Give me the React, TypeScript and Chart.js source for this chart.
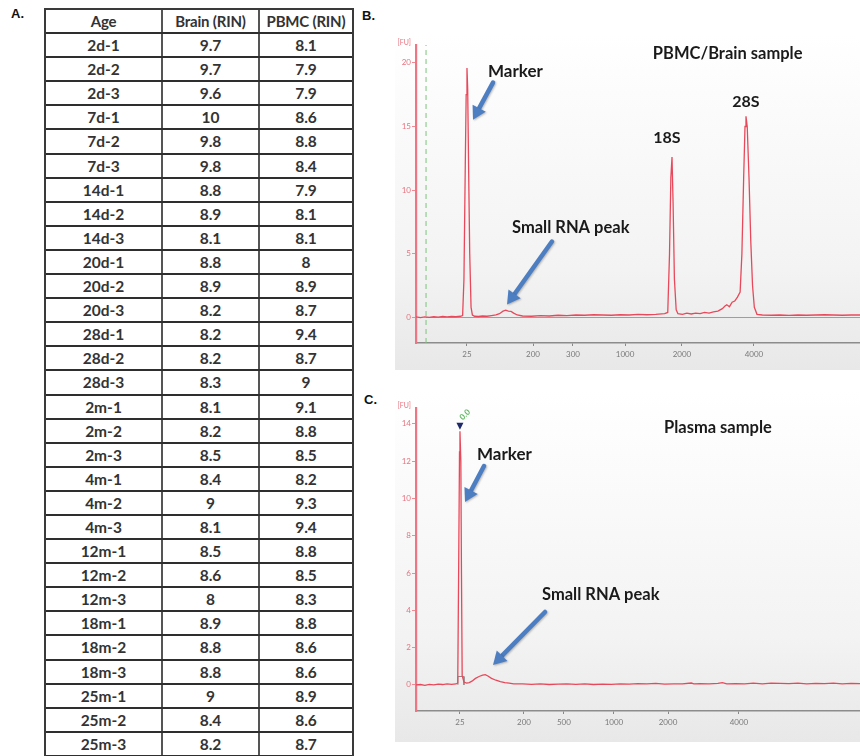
import React, { useEffect, useRef } from "react";
import { Chart, registerables } from "chart.js";
Chart.register(...registerables);

// ---------- Table A ----------
const AGES = [
  "2d-1", "2d-2", "2d-3", "7d-1", "7d-2", "7d-3", "14d-1", "14d-2", "14d-3", "20d-1",
  "20d-2", "20d-3", "28d-1", "28d-2", "28d-3", "2m-1", "2m-2", "2m-3", "4m-1", "4m-2",
  "4m-3", "12m-1", "12m-2", "12m-3", "18m-1", "18m-2", "18m-3", "25m-1", "25m-2", "25m-3",
];
const BRAIN_RIN = [
  9.7, 9.7, 9.6, 10, 9.8, 9.8, 8.8, 8.9, 8.1, 8.8,
  8.9, 8.2, 8.2, 8.2, 8.3, 8.1, 8.2, 8.5, 8.4, 9,
  8.1, 8.5, 8.6, 8, 8.9, 8.8, 8.8, 9, 8.4, 8.2,
];
const PBMC_RIN = [
  8.1, 7.9, 7.9, 8.6, 8.8, 8.4, 7.9, 8.1, 8.1, 8,
  8.9, 8.7, 9.4, 8.7, 9, 9.1, 8.8, 8.5, 8.2, 9.3,
  9.4, 8.8, 8.5, 8.3, 8.8, 8.6, 8.6, 8.9, 8.6, 8.7,
];
const TABLE_HEADERS = ["Age", "Brain (RIN)", "PBMC (RIN)"];

// ---------- Electropherogram B (PBMC/Brain) ----------
const B_TIME = [
  19.0, 19.5, 20.0, 20.5, 21.0, 21.5, 22.0, 22.5, 23.0, 23.5, 24.0, 24.25, 24.4, 24.55, 24.65,
  24.74, 24.82, 24.92, 25.05, 25.2, 25.35, 25.6, 26.0, 26.5, 27.0, 27.5, 28.0, 28.4, 28.8, 29.1,
  29.4, 29.7, 30.0, 30.4, 31.0, 32.0, 33.0, 34.0, 35.0, 36.0, 37.0, 38.0, 39.0, 40.0, 41.0,
  42.0, 43.0, 44.0, 45.0, 46.0, 47.0, 47.35, 47.55, 47.7, 47.83, 47.95, 48.1, 48.3, 48.5, 49.0,
  49.5, 50.0, 50.5, 51.0, 51.5, 52.0, 52.5, 53.0, 53.5, 53.8, 54.0, 54.3, 54.6, 54.9, 55.2,
  55.5, 55.7, 55.9, 56.05, 56.16, 56.3, 56.5, 56.7, 56.9, 57.1, 57.4, 58.0, 59.0, 60.0, 61.0,
  62.0, 63.0, 64.0, 65.0, 66.0, 67.0, 68.0, 69.0,
];
const B_FU = [
  0.05, 0.0, 0.05, 0.02, 0.06, 0.03, 0.08, 0.05, 0.08, 0.06, 0.1, 0.15, 3.0, 12.0, 17.5,
  19.6, 18.0, 12.0, 5.0, 0.8, 0.2, 0.1, 0.08, 0.12, 0.1, 0.15, 0.2, 0.3, 0.5, 0.58,
  0.5, 0.48, 0.35, 0.2, 0.12, 0.1, 0.15, 0.12, 0.18, 0.15, 0.2, 0.18, 0.22, 0.2, 0.18,
  0.22, 0.2, 0.25, 0.22, 0.25, 0.3, 0.4, 5.0, 11.0, 12.6, 9.0, 3.0, 0.6, 0.3, 0.25,
  0.35, 0.28, 0.35, 0.3, 0.4, 0.35, 0.45, 0.5, 0.7, 0.9, 1.0, 0.85, 1.2, 1.3, 1.6,
  2.0, 5.0, 11.0, 15.0, 15.8, 15.0, 11.0, 6.0, 2.5, 0.8, 0.25, 0.2, 0.18, 0.2, 0.17,
  0.2, 0.18, 0.2, 0.22, 0.2, 0.18, 0.2, 0.2,
];
const B_TICK_POS = [24.74, 32.18, 36.68, 42.54, 48.95, 57.06];
const B_TICK_LABELS = ["25", "200", "300", "1000", "2000", "4000"];
const B_Y_TICKS = [0, 5, 10, 15, 20];
const B_LOWER_MARKER_T = 20.13;

// ---------- Electropherogram C (Plasma) ----------
const C_TIME = [
  19.0, 19.5, 20.0, 20.5, 21.0, 21.5, 22.0, 22.5, 23.0, 23.5, 23.7, 23.8, 23.9, 23.95, 24.05,
  24.12, 24.2, 24.4, 24.7, 25.0, 25.3, 25.7, 26.1, 26.5, 26.8, 27.1, 27.5, 28.0, 28.5, 29.0,
  29.5, 30.0, 31.0, 32.0, 33.0, 34.0, 35.0, 36.0, 37.0, 38.0, 39.0, 40.0, 41.0, 42.0, 43.0,
  44.0, 45.0, 46.0, 47.0, 48.0, 49.0, 50.0, 50.3, 51.0, 52.0, 53.0, 53.5, 54.0, 55.0, 56.0,
  57.0, 58.0, 59.0, 60.0, 61.0, 62.0, 63.0, 64.0, 65.0, 66.0, 67.0, 68.0, 69.0,
];
const C_FU = [
  0.0, 0.02, -0.02, 0.03, 0.0, 0.04, 0.02, 0.05, 0.03, 0.05, 0.1, 6.0, 12.5, 13.6, 12.0,
  6.0, 0.5, 0.15, 0.1, 0.12, 0.2, 0.35, 0.45, 0.52, 0.55, 0.48, 0.35, 0.25, 0.18, 0.12,
  0.1, 0.06, 0.05, 0.03, 0.05, 0.02, 0.04, 0.06, 0.03, 0.05, 0.02, 0.04, 0.03, 0.06, 0.04,
  0.07, 0.05, 0.08, 0.04, 0.06, 0.05, 0.1, 0.06, 0.07, 0.05, 0.08, 0.12, 0.06, 0.07, 0.05,
  0.09, 0.06, 0.1, 0.08, 0.07, 0.1, 0.06, 0.08, 0.07, 0.09, 0.06, 0.08, 0.07,
];
const C_TICK_POS = [23.95, 31.16, 35.66, 41.29, 47.38, 55.37];
const C_TICK_LABELS = ["25", "200", "500", "1000", "2000", "4000"];
const C_Y_TICKS = [0, 2, 4, 6, 8, 10, 12, 14];
const C_MARKER_PEAK = { t: 23.95, v: 13.85, label: "0.0" };
const C_BRACKET_T = [23.72, 23.72, 24.4, 24.4];
const C_BRACKET_V = [0, 0.45, 0.45, 0];

// ---------- annotations (data coordinates) ----------
type Txt = { text: string; t: number; v: number; align: CanvasTextAlign; size: number };
type Arr = { t1: number; v1: number; t2: number; v2: number };

const B_TEXTS: Txt[] = [
  { text: "Marker", t: 27.1, v: 19.3, align: "left", size: 17 },
  { text: "PBMC/Brain sample", t: 54.1, v: 20.7, align: "center", size: 16.5 },
  { text: "28S", t: 56.16, v: 16.95, align: "center", size: 16 },
  { text: "18S", t: 47.26, v: 14.13, align: "center", size: 16 },
  { text: "Small RNA peak", t: 29.81, v: 7.06, align: "left", size: 16.5 },
];
const B_ARROWS: Arr[] = [
  { t1: 27.67, v1: 18.45, t2: 25.42, v2: 15.54 },
  { t1: 34.31, v1: 5.97, t2: 29.25, v2: 1.02 },
];
const C_TEXTS: Txt[] = [
  { text: "Plasma sample", t: 53.0, v: 13.78, align: "center", size: 16.5 },
  { text: "Marker", t: 25.87, v: 12.33, align: "left", size: 17 },
  { text: "Small RNA peak", t: 33.19, v: 4.83, align: "left", size: 16.5 },
];
const C_ARROWS: Arr[] = [
  { t1: 26.66, v1: 11.74, t2: 24.52, v2: 9.81 },
  { t1: 33.53, v1: 3.91, t2: 27.67, v2: 1.07 },
];

const FONT = "Lato, 'Open Sans', 'DejaVu Sans', sans-serif";

function drawArrow(ctx: CanvasRenderingContext2D, x1: number, y1: number, x2: number, y2: number) {
  const ang = Math.atan2(y2 - y1, x2 - x1);
  const head = 13;
  const hw = 7.5;
  const bx = x2 - head * Math.cos(ang);
  const by = y2 - head * Math.sin(ang);
  ctx.save();
  ctx.strokeStyle = "#4d7ec2";
  ctx.fillStyle = "#4d7ec2";
  ctx.lineWidth = 4.5;
  ctx.lineCap = "round";
  ctx.shadowColor = "rgba(0,0,0,0.25)";
  ctx.shadowBlur = 2;
  ctx.shadowOffsetX = 1;
  ctx.shadowOffsetY = 1;
  ctx.beginPath();
  ctx.moveTo(x1, y1);
  ctx.lineTo(bx, by);
  ctx.stroke();
  ctx.beginPath();
  ctx.moveTo(x2, y2);
  ctx.lineTo(bx + hw * Math.cos(ang + Math.PI / 2), by + hw * Math.sin(ang + Math.PI / 2));
  ctx.lineTo(bx + hw * Math.cos(ang - Math.PI / 2), by + hw * Math.sin(ang - Math.PI / 2));
  ctx.closePath();
  ctx.fill();
  ctx.restore();
}

function makeAnnotPlugin(texts: Txt[], arrows: Arr[], extra?: (chart: any) => void) {
  return {
    id: "annot",
    afterDraw(chart: any) {
      const { ctx, chartArea } = chart;
      const x = chart.scales.x;
      const y = chart.scales.y;
      ctx.save();
      ctx.fillStyle = "#e8727f";
      ctx.font = `7px ${FONT}`;
      ctx.textAlign = "right";
      ctx.textBaseline = "bottom";
      ctx.fillText("[FU]", chartArea.left - 5, chartArea.top + 1);
      if (extra) extra(chart);
      ctx.fillStyle = "#1a1a1a";
      ctx.textBaseline = "middle";
      texts.forEach((tx) => {
        ctx.font = `bold ${tx.size}px ${FONT}`;
        ctx.textAlign = tx.align;
        ctx.fillText(tx.text, x.getPixelForValue(tx.t), y.getPixelForValue(tx.v));
      });
      arrows.forEach((a) =>
        drawArrow(ctx, x.getPixelForValue(a.t1), y.getPixelForValue(a.v1), x.getPixelForValue(a.t2), y.getPixelForValue(a.v2))
      );
      ctx.restore();
    },
  };
}

function toPoints(ts: number[], vs: number[]) {
  return ts.map((t, i) => ({ x: t, y: vs[i] }));
}

function makeConfig(p: {
  datasets: any[];
  yMin: number;
  yMax: number;
  yTicks: number[];
  tickPos: number[];
  tickLabels: string[];
  padTop: number;
  xH: number;
  plugin: any;
}) {
  return {
    type: "line",
    data: { datasets: p.datasets },
    options: {
      animation: false,
      responsive: false,
      maintainAspectRatio: false,
      events: [],
      layout: { padding: { top: p.padTop, right: 0, left: 0, bottom: 0 } },
      plugins: { legend: { display: false }, tooltip: { enabled: false } },
      scales: {
        x: {
          type: "linear",
          min: 19,
          max: 69,
          afterFit: (s: any) => {
            s.height = p.xH;
          },
          afterBuildTicks: (a: any) => {
            a.ticks = p.tickPos.map((v) => ({ value: v }));
          },
          ticks: {
            autoSkip: false,
            maxRotation: 0,
            callback: (_v: any, i: number) => p.tickLabels[i],
            color: "#7a7a7a",
            font: { size: 8, family: FONT },
            padding: 4,
          },
          grid: { drawOnChartArea: false, tickLength: 3, tickColor: "#888" },
          border: { color: "#8c8c8c", width: 1.5 },
        },
        y: {
          type: "linear",
          min: p.yMin,
          max: p.yMax,
          afterFit: (s: any) => {
            s.width = 36;
          },
          afterBuildTicks: (a: any) => {
            a.ticks = p.yTicks.map((v) => ({ value: v }));
          },
          ticks: {
            autoSkip: false,
            color: "#e8727f",
            font: { size: 8, family: FONT },
            padding: 1,
          },
          grid: { drawOnChartArea: false, tickLength: 4, tickColor: "#f08a95" },
          border: { color: "#f07583", width: 2.2 },
        },
      },
    },
    plugins: [p.plugin],
  };
}

function ChartB() {
  const ref = useRef<HTMLCanvasElement>(null);
  useEffect(() => {
    const cfg: any = makeConfig({
      datasets: [
        { data: toPoints(B_TIME, B_FU), borderColor: "#e8495a", borderWidth: 1.3, pointRadius: 0, tension: 0 },
        {
          data: [
            { x: B_LOWER_MARKER_T, y: 0 },
            { x: 69, y: 0 },
          ],
          borderColor: "#6cbf6c",
          borderWidth: 1,
          pointRadius: 0,
        },
        {
          data: [
            { x: B_LOWER_MARKER_T, y: -2 },
            { x: B_LOWER_MARKER_T, y: 21.4 },
          ],
          borderColor: "#7cc47c",
          borderWidth: 1,
          borderDash: [5, 4],
          pointRadius: 0,
        },
      ],
      yMin: -2,
      yMax: 21.4,
      yTicks: B_Y_TICKS,
      tickPos: B_TICK_POS,
      tickLabels: B_TICK_LABELS,
      padTop: 15,
      xH: 32,
      plugin: makeAnnotPlugin(B_TEXTS, B_ARROWS),
    });
    const chart = new Chart(ref.current!, cfg);
    return () => chart.destroy();
  }, []);
  return <canvas ref={ref} width={480} height={345} style={{ position: "absolute", left: 380, top: 30 }} />;
}

function ChartC() {
  const ref = useRef<HTMLCanvasElement>(null);
  useEffect(() => {
    const extra = (chart: any) => {
      const { ctx } = chart;
      const px = chart.scales.x.getPixelForValue(C_MARKER_PEAK.t);
      const py = chart.scales.y.getPixelForValue(C_MARKER_PEAK.v);
      ctx.save();
      ctx.fillStyle = "#1f2a6b";
      ctx.beginPath();
      ctx.moveTo(px - 3.5, py - 4);
      ctx.lineTo(px + 3.5, py - 4);
      ctx.lineTo(px, py + 3);
      ctx.closePath();
      ctx.fill();
      ctx.translate(px + 1, py - 8);
      ctx.rotate(-Math.PI / 4);
      ctx.fillStyle = "#5cb85c";
      ctx.font = `bold 8px ${FONT}`;
      ctx.textAlign = "left";
      ctx.textBaseline = "middle";
      ctx.fillText(C_MARKER_PEAK.label, 0, 0);
      ctx.restore();
    };
    const cfg: any = makeConfig({
      datasets: [
        { data: toPoints(C_TIME, C_FU), borderColor: "#e8495a", borderWidth: 1.3, pointRadius: 0, tension: 0 },
        { data: toPoints(C_BRACKET_T, C_BRACKET_V), borderColor: "#8a8a8a", borderWidth: 1, pointRadius: 0 },
      ],
      yMin: -1.4,
      yMax: 14.85,
      yTicks: C_Y_TICKS,
      tickPos: C_TICK_POS,
      tickLabels: C_TICK_LABELS,
      padTop: 13,
      xH: 34,
      plugin: makeAnnotPlugin(C_TEXTS, C_ARROWS, extra),
    });
    const chart = new Chart(ref.current!, cfg);
    return () => chart.destroy();
  }, []);
  return <canvas ref={ref} width={480} height={350} style={{ position: "absolute", left: 380, top: 395 }} />;
}

function RinTable() {
  const rowH = 24.1;
  const cols = [115, 97, 94];
  const rows = [TABLE_HEADERS, ...AGES.map((a, i) => [a, String(BRAIN_RIN[i]), String(PBMC_RIN[i])])];
  return (
    <div
      style={{
        position: "absolute",
        left: 44,
        top: 8,
        width: 310,
        boxSizing: "border-box",
        borderLeft: "2px solid #3a3a3a",
        borderRight: "2px solid #3a3a3a",
        borderTop: "2px solid #3a3a3a",
      }}
    >
      {rows.map((r, ri) => (
        <div
          key={ri}
          style={{
            display: "flex",
            height: rowH,
            boxSizing: "border-box",
            borderBottom: "2.5px solid #2e2e2e",
          }}
        >
          {r.map((c, ci) => (
            <div
              key={ci}
              style={{
                width: cols[ci],
                flex: "none",
                boxSizing: "border-box",
                borderLeft: ci > 0 ? "2px solid #555" : "none",
                textAlign: "center",
                lineHeight: `${rowH - 2}px`,
                fontFamily: FONT,
                fontWeight: 700,
                fontSize: ri === 0 ? 15 : 15.5,
                letterSpacing: ri === 0 ? "-0.2px" : "0px",
                color: "#333",
                whiteSpace: "nowrap",
                overflow: "hidden",
              }}
            >
              {c}
            </div>
          ))}
        </div>
      ))}
    </div>
  );
}

const panelLabel: React.CSSProperties = {
  position: "absolute",
  fontFamily: "'Liberation Sans', Arial, sans-serif",
  fontWeight: 700,
  fontSize: 13,
  color: "#111",
};

export default function App() {
  return (
    <div
      style={{
        position: "fixed",
        left: 0,
        top: 0,
        width: 860,
        height: 756,
        overflow: "hidden",
        background: "#fff",
      }}
    >
      <div style={{ ...panelLabel, left: 11, top: 6 }}>A.</div>
      <div style={{ ...panelLabel, left: 362, top: 8 }}>B.</div>
      <div style={{ ...panelLabel, left: 364, top: 392 }}>C.</div>
      <RinTable />
      <div
        style={{
          position: "absolute",
          left: 395,
          top: 33,
          width: 465,
          height: 337,
          background: "linear-gradient(#ffffff, #f3f3f3 70%, #e8e8e8)",
        }}
      />
      <div
        style={{
          position: "absolute",
          left: 395,
          top: 390,
          width: 465,
          height: 352,
          background: "linear-gradient(#ffffff, #f3f3f3 70%, #e8e8e8)",
        }}
      />
      <ChartB />
      <ChartC />
    </div>
  );
}
